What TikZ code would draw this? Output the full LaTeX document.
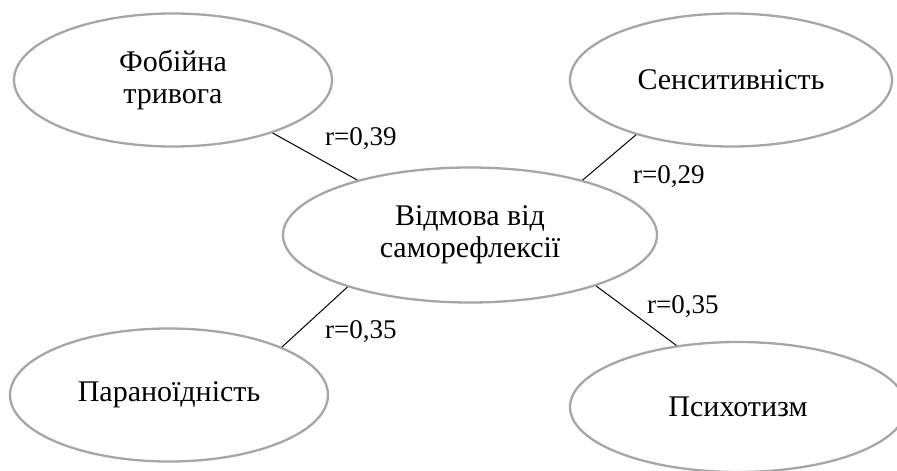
\documentclass[tikz,border=0pt]{standalone}
\usepackage{fontspec}
\setmainfont{Liberation Serif}
\usetikzlibrary{shapes.geometric}

\begin{document}
\begin{tikzpicture}
    [x=1pt,y=-1pt,
      factor/.style={ellipse,draw=gray!70,line width=2.3pt,inner sep=0pt,
          minimum width=318pt,minimum height=133pt,align=center,
          font=\fontsize{30}{32}\selectfont},
      link/.style={black,line width=1pt},
      coef/.style={inner sep=0pt,anchor=base west,font=\fontsize{27}{31.5}\selectfont},
    ]
    \useasboundingbox (0,0) rectangle (897,471);
    \node [factor,minimum width=374pt,minimum height=135pt] (vidmova) at (470,235) {Відмова від\\саморефлексії};
    \node [factor] (fobia) at (173,80) {Фобійна\\тривога};
    \node [factor,minimum width=322pt] (sensyt) at (731,80) {Сенситивність};
    \node [factor] (paranoid) at (169,395) {Параноїдність};
    \node [factor,minimum width=336pt,minimum height=130pt] (psyhot) at (738,407) {Психотизм};
    \draw [link] (fobia.-28) -- (vidmova.154);
    \draw [link] (sensyt.-150) -- (vidmova.26);
    \draw [link] (paranoid.23) -- (vidmova.-157);
    \draw [link] (psyhot.135) -- (vidmova.-22);
    \node [coef] (rfob) at (325,145) {r=0,39};
    \node [coef] (rsens) at (633,183) {r=0,29};
    \node [coef] (rpar) at (325,338) {r=0,35};
    \node [coef] (rpsy) at (647,313) {r=0,35};
  \end{tikzpicture}
\end{document}
